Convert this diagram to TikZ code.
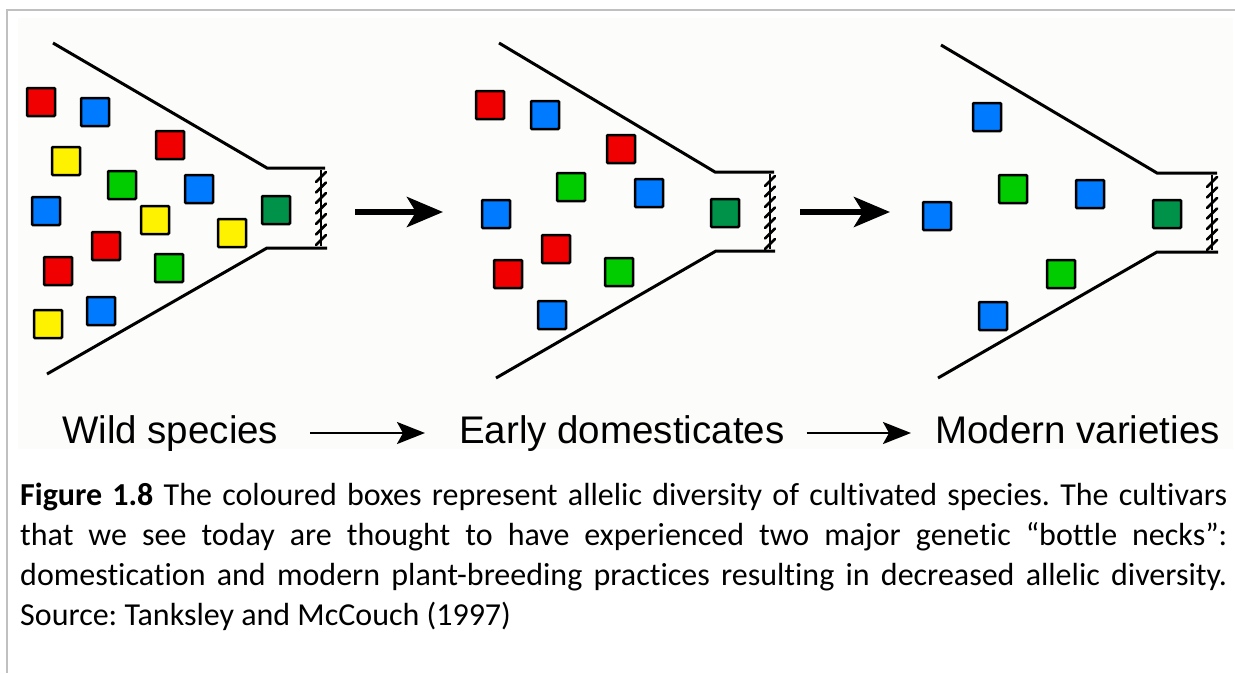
\documentclass[tikz,border=0pt]{standalone}
\usepackage{fontspec}
\usetikzlibrary{arrows.meta}
\newfontfamily\stagefont{Liberation Sans}
\newfontfamily\captionfont[Ligatures=NoCommon]{Carlito}
\definecolor{allelered}{RGB}{240,0,0}
\definecolor{alleleblue}{RGB}{0,122,255}
\definecolor{alleleyellow}{RGB}{255,242,0}
\definecolor{allelegreen}{RGB}{0,204,0}
\definecolor{fixedgreen}{RGB}{0,146,72}
\definecolor{framegray}{RGB}{192,192,192}
\definecolor{photobg}{RGB}{252,252,250}

\begin{document}
\frenchspacing
\begin{tikzpicture}[x=1pt, y=-1pt,
	allele/.style={draw=black, line width=2.5pt, minimum size=28pt, inner sep=0pt, rounded corners=1pt},
	funnel/.style={line width=3pt},
	hatch/.style={line width=2.8pt, line cap=round},
	bigarrow/.style={-{Stealth[length=36pt, width=30pt, inset=9pt]}, line width=6pt},
	stagearrow/.style={-{Stealth[length=28pt, width=22pt, inset=6pt]}, line width=2.2pt},
	stage/.style={font=\stagefont\fontsize{38.5}{46}\selectfont, inner sep=0pt, anchor=base west, text height=28pt, text depth=8pt}]
			
			\useasboundingbox (0, 0) rectangle (1235, 673);
			\fill [photobg] (18, 18) rectangle (1233, 449);
			\draw [framegray, line width=2pt] (7, 673) -- (7, 10) -- (1235, 10);
			
			% wild species
			\draw [funnel] (53, 43) -- (267, 168) -- (325, 168);
			\draw [funnel] (47, 374) -- (267, 248) -- (327, 248);
			\draw [line width=1.2pt] (321, 170) -- (321, 246);
			\draw [hatch] (316, 182) -- ++(10, -10) (316, 192.5) -- ++(10, -10) (316, 203) -- ++(10, -10) (316, 213.5) -- ++(10, -10) (316, 224) -- ++(10, -10) (316, 234.5) -- ++(10, -10) (316, 245) -- ++(10, -10);
			
			\node [allele, fill=allelered] (wr1) at (41, 102) {};
			\node [allele, fill=alleleblue] (wb1) at (95, 112) {};
			\node [allele, fill=alleleyellow] (wy1) at (66, 161) {};
			\node [allele, fill=allelered] (wr2) at (170, 145) {};
			\node [allele, fill=allelegreen] (wg1) at (122, 185) {};
			\node [allele, fill=alleleblue] (wb2) at (199, 189) {};
			\node [allele, fill=alleleblue] (wb3) at (46, 211) {};
			\node [allele, fill=alleleyellow] (wy2) at (155, 220) {};
			\node [allele, fill=alleleyellow] (wy3) at (232, 233) {};
			\node [allele, fill=allelered] (wr3) at (106, 246) {};
			\node [allele, fill=allelered] (wr4) at (58, 271) {};
			\node [allele, fill=allelegreen] (wg2) at (169, 268) {};
			\node [allele, fill=alleleyellow] (wy4) at (48, 324) {};
			\node [allele, fill=alleleblue] (wb4) at (101, 311) {};
			\node [allele, fill=fixedgreen] (wfix) at (276, 210) {};
			
			% early domesticates
			\draw [funnel] (499, 43) -- (715, 172) -- (774, 172);
			\draw [funnel] (496, 378) -- (716, 251) -- (775, 251);
			\draw [line width=1.2pt] (770, 174) -- (770, 249);
			\draw [hatch] (765, 186) -- ++(10, -10) (765, 196.5) -- ++(10, -10) (765, 207) -- ++(10, -10) (765, 217.5) -- ++(10, -10) (765, 228) -- ++(10, -10) (765, 238.5) -- ++(10, -10) (765, 249) -- ++(10, -10);
			
			\node [allele, fill=allelered] (er1) at (490, 105) {};
			\node [allele, fill=alleleblue] (eb1) at (545, 115) {};
			\node [allele, fill=allelered] (er2) at (621, 149) {};
			\node [allele, fill=allelegreen] (eg1) at (571, 187) {};
			\node [allele, fill=alleleblue] (eb2) at (649, 193) {};
			\node [allele, fill=alleleblue] (eb3) at (496, 214) {};
			\node [allele, fill=allelered] (er3) at (556, 249) {};
			\node [allele, fill=allelered] (er4) at (508, 274) {};
			\node [allele, fill=allelegreen] (eg2) at (619, 272) {};
			\node [allele, fill=alleleblue] (eb4) at (552, 315) {};
			\node [allele, fill=fixedgreen] (efix) at (725, 213) {};
			
			% modern varieties
			\draw [funnel] (941, 45) -- (1157, 173) -- (1217, 173);
			\draw [funnel] (938, 378) -- (1157, 252) -- (1218, 252);
			\draw [line width=1.2pt] (1212, 175) -- (1212, 250);
			\draw [hatch] (1207, 187) -- ++(10, -10) (1207, 197.5) -- ++(10, -10) (1207, 208) -- ++(10, -10) (1207, 218.5) -- ++(10, -10) (1207, 229) -- ++(10, -10) (1207, 239.5) -- ++(10, -10) (1207, 250) -- ++(10, -10);
			
			\node [allele, fill=alleleblue] (mb1) at (987, 117) {};
			\node [allele, fill=allelegreen] (mg1) at (1013, 189) {};
			\node [allele, fill=alleleblue] (mb2) at (1090, 194) {};
			\node [allele, fill=alleleblue] (mb3) at (937, 216) {};
			\node [allele, fill=allelegreen] (mg2) at (1061, 274) {};
			\node [allele, fill=alleleblue] (mb4) at (993, 316) {};
			\node [allele, fill=fixedgreen] (mfix) at (1167, 214) {};
			
			\coordinate (outW) at (355, 212);
			\coordinate (inE) at (443, 212);
			\coordinate (outE) at (800, 212);
			\coordinate (inM) at (890, 212);
			\draw [bigarrow] (outW) -- (inE);
			\draw [bigarrow] (outE) -- (inM);
			
			\node [stage] (wild) at (62, 443) {Wild species};
			\node [stage] (early) at (459, 443) {Early domesticates};
			\node [stage] (modern) at (935, 443) {Modern varieties};
			\draw [stagearrow, shorten <=32pt, shorten >=34pt] (wild) -- (early);
			\draw [stagearrow, shorten <=22pt, shorten >=24pt] (early) -- (modern);
			
			\node [anchor=north west, inner sep=0pt, align=left, font=\captionfont\fontsize{32}{40}\selectfont] (caption) at (20, 483) {\makebox[1207pt][s]{\textbf{Figure 1.8} The coloured boxes represent allelic diversity of cultivated species. The cultivars}\\
				\makebox[1207pt][s]{that we see today are thought to have experienced two major genetic “bottle necks”:}\\
				\makebox[1207pt][s]{domestication and modern plant-breeding practices resulting in decreased allelic diversity.}\\
				Source: Tanksley and McCouch (1997)};
			
\end{tikzpicture}
\end{document}
